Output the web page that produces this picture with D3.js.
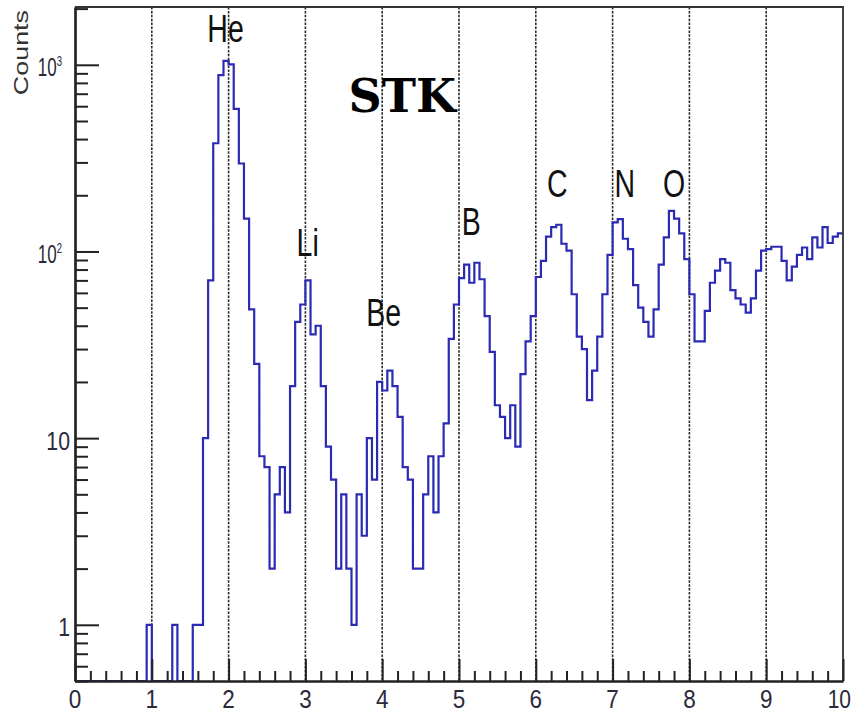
<!DOCTYPE html>
<html>
<head>
<meta charset="utf-8">
<script src="https://cdn.jsdelivr.net/npm/d3@7"></script>
<style>
  body { margin: 0; background: #fff; }
  svg { display: block; }
</style>
</head>
<body>
<svg id="chart" width="853" height="713"></svg>
<script>
// ---------------- data ----------------
const xRange = [0, 10];          // histogram axis range
const nBins = 150;               // bins of width 1/15
const counts = [
  0,0,0,0,0,0,0,0,0,0, 0,0,0,0,1,0,0,0,0,1,
  0,0,0,1,1,10,70,380,880,1050, 1005,580,296,150,49,25,8,7,2,5,
  7,4,19,42,52,70,36,40,19,9, 6,2,5,2,1,5,3,10,6,20,
  18,23,19,13,7,6,2,2,5,8, 4,8,12,34,52,72,85,68,87,71,
  45,29,15,13,10,15,9,22,33,45, 73,89,120,135,139,110,101,59,35,30,
  16,23,35,59,96,143,149,117,103,66, 50,42,35,49,85,119,165,150,125,91,
  59,33,33,48,68,79,91,87,62,56, 52,47,56,79,101,103,106,106,89,70,
  83,96,105,91,119,105,135,111,120,125
];
const xMajorTicks = [0,1,2,3,4,5,6,7,8,9,10];
const xTickLabels = ["0","1","2","3","4","5","6","7","8","9","10"];
const xGridLines = [1,2,3,4,5,6,7,8,9];
const yRange = [0.5, 2040];
const yMajorTicks = [1, 10, 100, 1000];
const yTickBase = ["1", "10", "10", "10"];
const yTickExp  = ["", "", "2", "3"];
const yTitle = "Counts";
const elementNames = ["He", "Li", "Be", "B", "C", "N", "O"];
const elementX = [1.96, 3.03, 4.02, 5.16, 6.28, 7.16, 7.80];
const elementY = [1330, 94, 40, 123, 197, 197, 197];
const titleText = "STK";
const titleX = 4.26, titleY = 560;

// ---------------- layout ----------------
const W = 853, H = 713;
const L = 75, R = 843, T = 7, B = 681;
const svg = d3.select("#chart");

const x = d3.scaleLinear().domain(xRange).range([L, R]);
const y = d3.scaleLog().domain(yRange).range([B, T]);

svg.append("rect").attr("width", W).attr("height", H).attr("fill", "#fff");

svg.append("defs").append("clipPath").attr("id", "plotclip")
  .append("rect").attr("x", L).attr("y", T).attr("width", R - L).attr("height", B - T);

// grid lines (vertical dotted)
svg.append("g").selectAll("line").data(xGridLines).join("line")
  .attr("x1", d => x(d)).attr("x2", d => x(d))
  .attr("y1", T).attr("y2", B)
  .attr("stroke", "#2a2a2a").attr("stroke-width", 1.6)
  .attr("stroke-dasharray", "2.5,1.4");

// histogram
const binW = (xRange[1] - xRange[0]) / nBins;
const pts = counts.map((c, i) => [xRange[0] + i * binW, c]);
pts.push([xRange[1], counts[counts.length - 1]]);
const line = d3.line()
  .x(d => x(d[0]))
  .y(d => y(d[1] > 0 ? d[1] : yRange[0]))
  .curve(d3.curveStepAfter);
svg.append("path")
  .attr("clip-path", "url(#plotclip)")
  .attr("d", line(pts))
  .attr("fill", "none")
  .attr("stroke", "#2a2ab4")
  .attr("stroke-width", 2.2)
  .attr("stroke-linejoin", "miter");

// frame (top and right)
svg.append("path")
  .attr("d", `M${L},${T}H${R}V${B}`)
  .attr("fill", "none").attr("stroke", "#333").attr("stroke-width", 1.8);

// x axis ticks
const xMinor = [];
for (let i = 0; i < 10; i++) for (let j = 1; j <= 4; j++) xMinor.push(i + j * 0.2);
const axX = svg.append("g").attr("transform", `translate(0,${B})`);
axX.call(d3.axisBottom(x).tickValues(xMajorTicks).tickSize(-22).tickSizeOuter(0).tickFormat(""));
const axXm = svg.append("g").attr("transform", `translate(0,${B})`);
axXm.call(d3.axisBottom(x).tickValues(xMinor).tickSize(-10).tickSizeOuter(0).tickFormat(""));

// y axis ticks
const yMinor = [];
[0.1, 1, 10, 100, 1000].forEach(dec => {
  for (let m = 2; m <= 9; m++) {
    const v = m * dec;
    if (v >= yRange[0] && v <= yRange[1] && v !== 1) yMinor.push(v);
  }
});
const axY = svg.append("g").attr("transform", `translate(${L},0)`);
axY.call(d3.axisLeft(y).tickValues(yMajorTicks).tickSize(-24).tickSizeOuter(0).tickFormat(""));
const axYm = svg.append("g").attr("transform", `translate(${L},0)`);
axYm.call(d3.axisLeft(y).tickValues(yMinor).tickSize(-13).tickSizeOuter(0).tickFormat(""));

svg.selectAll(".domain").attr("stroke", "#222").attr("stroke-width", 2.2);
svg.selectAll(".tick line").attr("stroke", "#222").attr("stroke-width", 2);

// x tick labels (last one kept inside the picture)
svg.append("g").selectAll("g").data(xMajorTicks).join("g")
  .attr("transform", (d, i) => i === xMajorTicks.length - 1
    ? `translate(851,708) scale(0.84,1)`
    : `translate(${x(d)},708) scale(0.9,1)`)
  .append("text")
  .attr("text-anchor", (d, i) => i === xMajorTicks.length - 1 ? "end" : "middle")
  .attr("font-family", "'Liberation Sans', Arial, sans-serif")
  .attr("font-size", 25)
  .attr("fill", "#2a2a3a")
  .text((d, i) => xTickLabels[i]);

// y tick labels
yMajorTicks.forEach((v, i) => {
  const hasExp = yTickExp[i] !== "";
  const g = svg.append("g")
    .attr("transform", `translate(${hasExp ? 62 : 70},${y(v) + 11.5}) scale(${hasExp ? 0.68 : 0.85},1)`);
  const t = g.append("text")
    .attr("text-anchor", "end")
    .attr("font-family", "'Liberation Sans', Arial, sans-serif")
    .attr("font-size", 25)
    .attr("fill", "#2a2a3a");
  t.append("tspan").text(yTickBase[i]);
  if (hasExp) {
    t.append("tspan").attr("dy", -10).attr("font-size", 14).text(yTickExp[i]);
  }
});

// y axis title
svg.append("g")
  .attr("transform", "translate(28,10) rotate(-90) scale(1.28,1)")
  .append("text")
  .attr("text-anchor", "end")
  .attr("font-family", "'Liberation Sans', Arial, sans-serif")
  .attr("font-size", 21)
  .attr("fill", "#333")
  .text(yTitle);

// element labels
svg.append("g").selectAll("g").data(elementNames).join("g")
  .attr("transform", (d, i) => `translate(${x(elementX[i])},${y(elementY[i])}) scale(0.75,1)`)
  .append("text")
  .attr("text-anchor", "middle")
  .attr("font-family", "'Liberation Sans', Arial, sans-serif")
  .attr("font-size", 38)
  .attr("fill", "#111")
  .text(d => d);

// STK title
svg.append("text")
  .attr("x", x(titleX)).attr("y", y(titleY))
  .attr("text-anchor", "middle")
  .attr("font-family", "'DejaVu Serif', serif")
  .attr("font-weight", "bold")
  .attr("font-size", 46)
  .attr("fill", "#000")
  .text(titleText);
</script>
</body>
</html>
